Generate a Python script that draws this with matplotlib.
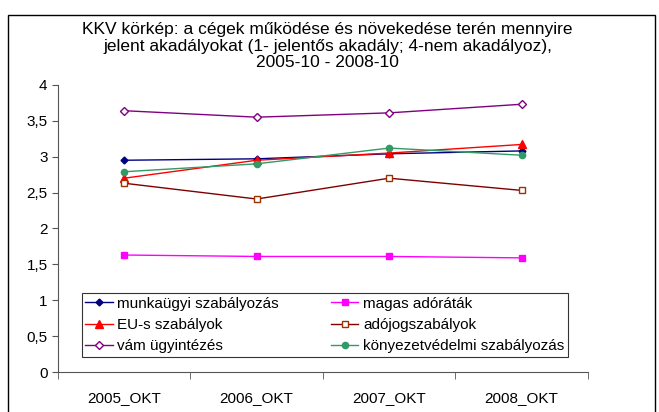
import numpy as np
import matplotlib.pyplot as plt
from matplotlib.patches import Rectangle

plt.rcParams['font.family'] = ['Liberation Sans', 'DejaVu Sans']

years = ['2005_OKT', '2006_OKT', '2007_OKT', '2008_OKT']
munkaugyi = [2.95, 2.97, 3.04, 3.08]
magas_adorata = [1.63, 1.61, 1.61, 1.59]
eu_szabalyok = [2.70, 2.95, 3.05, 3.17]
adojog = [2.63, 2.41, 2.70, 2.53]
vam = [3.64, 3.55, 3.61, 3.73]
kornyezet = [2.79, 2.90, 3.12, 3.02]

fig = plt.figure(figsize=(6.59, 4.12), dpi=100)
ax = fig.add_axes([0.088, 0.097, 0.804, 0.697])

# outer chart frame
fig.patches.append(Rectangle((8 / 659, -0.01), 647 / 659, 1 - 15 / 412 + 0.01,
                             transform=fig.transFigure, fill=False,
                             edgecolor='black', linewidth=1.0))

x = np.arange(len(years))
l1, = ax.plot(x, munkaugyi, color='#000080', marker='D', markersize=3.5, lw=1,
              label='munkaügyi szabályozás')
l2, = ax.plot(x, magas_adorata, color='#FF00FF', marker='s', markersize=4.5, lw=1,
              label='magas adóráták')
l3, = ax.plot(x, eu_szabalyok, color='#FF0000', marker='^', markersize=5.5, lw=1,
              label='EU-s szabályok')
l4, = ax.plot(x, adojog, color='#800000', marker='s', markersize=5, lw=1,
              markerfacecolor='white', markeredgecolor='#993300', label='adójogszabályok')
l5, = ax.plot(x, vam, color='#800080', marker='D', markersize=4, lw=1,
              markerfacecolor='white', label='vám ügyintézés')
l6, = ax.plot(x, kornyezet, color='#339966', marker='o', markersize=4.5, lw=1,
              label='könyezetvédelmi szabályozás')

ax.set_xlim(-0.5, 3.5)
ax.set_ylim(0, 4)
ax.set_yticks(np.arange(0, 4.01, 0.5))
ax.set_yticklabels(['0', '0,5', '1', '1,5', '2', '2,5', '3', '3,5', '4'], fontsize=11)
ax.set_xticks(x)
ax.set_xticklabels(years, fontsize=11)
ax.tick_params(axis='x', which='major', length=0, pad=14)
ax.set_xticks(np.arange(-0.5, 3.6, 1), minor=True)
ax.tick_params(axis='x', which='minor', length=5, color='#555555')
ax.tick_params(axis='y', length=4, color='#555555')

for s in ['top', 'right']:
    ax.spines[s].set_visible(False)
for s in ['left', 'bottom']:
    ax.spines[s].set_color('#555555')

fig.text(0.497, 0.947,
         'KKV körkép: a cégek működése és növekedése terén mennyire\n'
         'jelent akadályokat (1- jelentős akadály; 4-nem akadályoz),\n'
         '2005-10 - 2008-10', fontsize=12.5, ha='center', va='top',
         linespacing=1.15)

handles = [l1, l3, l5, l2, l4, l6]
leg = ax.legend(handles=handles, ncol=2, loc='lower left',
                bbox_to_anchor=(0.03, 0.025),
                fontsize=11, frameon=True, fancybox=False, edgecolor='black',
                borderpad=0.25, labelspacing=0.48, handlelength=1.8,
                handletextpad=0.3, columnspacing=3.4)
leg.get_frame().set_linewidth(0.8)

fig.savefig('out.png', dpi=100)
